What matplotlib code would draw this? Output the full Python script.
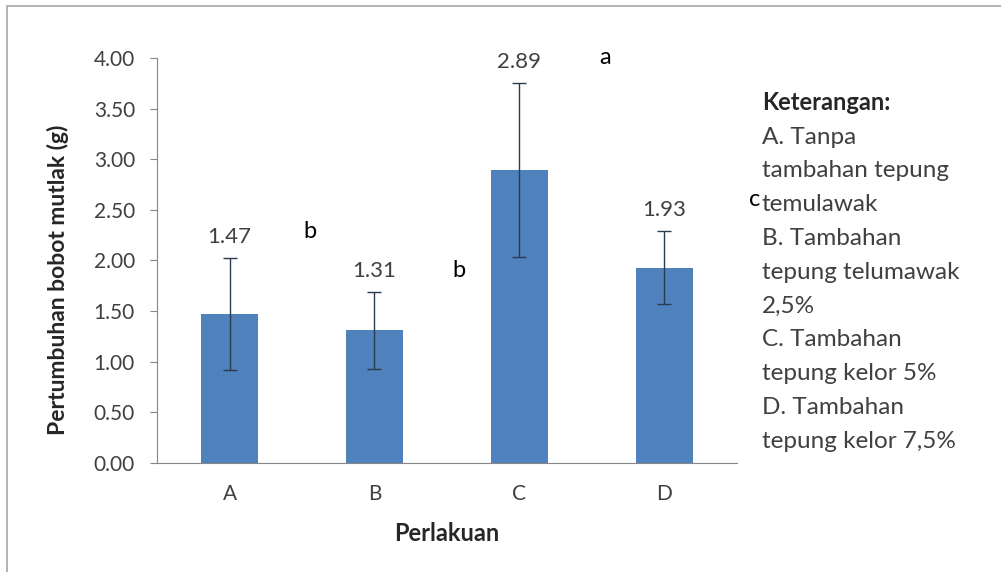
import numpy as np
import matplotlib
matplotlib.use('Agg')
import matplotlib.pyplot as plt
from matplotlib.patches import Rectangle

# data
perlakuan = ['A', 'B', 'C', 'D']
bobot = [1.47, 1.31, 2.89, 1.93]
galat = [0.55, 0.38, 0.86, 0.36]
notasi = ['b', 'b', 'a', 'c']
yticks = [0.0, 0.5, 1.0, 1.5, 2.0, 2.5, 3.0, 3.5, 4.0]
keterangan = ['A. Tanpa', 'tambahan tepung', 'temulawak', 'B. Tambahan',
              'tepung telumawak', '2,5%', 'C. Tambahan', 'tepung kelor 5%',
              'D. Tambahan', 'tepung kelor 7,5%']

plt.rcParams['font.family'] = ['Lato', 'DejaVu Sans']

fig = plt.figure(figsize=(10.01, 5.72), dpi=100)
# outer chart frame
fig.patches.append(Rectangle((7 / 1001, -0.05), 1.1, 1 - 6 / 572 + 0.05,
                             transform=fig.transFigure, fill=False,
                             edgecolor='#a6a6a6', linewidth=1.2))

ax = fig.add_axes([0.157, 0.1906, 0.579, 0.708])
x = np.arange(len(perlakuan))
ax.bar(x, bobot, width=0.39, color='#4f81bd', zorder=2)
ax.errorbar(x, bobot, yerr=galat, fmt='none', ecolor='#2b3a4f',
            elinewidth=1.0, capsize=5, capthick=1.0, zorder=3)

ax.set_xlim(-0.5, 3.5)
ax.set_ylim(0, 4)
ax.set_yticks(yticks)
ax.set_yticklabels(['%.2f' % v for v in yticks], fontsize=15, color='#404040')
ax.set_xticks(x)
ax.set_xticklabels(perlakuan, fontsize=15, color='#404040')
ax.tick_params(axis='x', length=0, pad=15)
ax.tick_params(axis='y', length=5, color='#868686', pad=11)
for s in ['top', 'right']:
    ax.spines[s].set_visible(False)
for s in ['left', 'bottom']:
    ax.spines[s].set_color('#868686')

ax.set_xlabel('Perlakuan', fontsize=17, fontweight='bold', color='#262626', labelpad=13)
ax.set_ylabel('Pertumbuhan bobot mutlak (g)', fontsize=16.5, fontweight='bold',
              color='#262626', va='center')
ax.yaxis.set_label_coords(-0.172, 0.452)

# value labels above the error bars
for xi, v, e in zip(x, bobot, galat):
    ax.text(xi, v + e + 0.11, '%.2f' % v, ha='center', va='bottom',
            fontsize=16, color='#404040')

# significance letters
letter_pos = [(310, 232), (459, 270), (605, 58), (755, 200)]
for (px, py), s in zip(letter_pos, notasi):
    fig.text(px / 1001, 1 - py / 572, s, ha='center', va='center',
             fontsize=17, color='black')

# legend text block
fig.text(762 / 1001, 1 - 102 / 572, 'Keterangan:', ha='left', va='center',
         fontsize=17, fontweight='bold', color='#262626')
for i, line in enumerate(keterangan):
    fig.text(762 / 1001, 1 - (137 + i * 33.8) / 572, line, ha='left',
             va='center', fontsize=17.5, color='#404040')

fig.savefig('out.png', dpi=100)
